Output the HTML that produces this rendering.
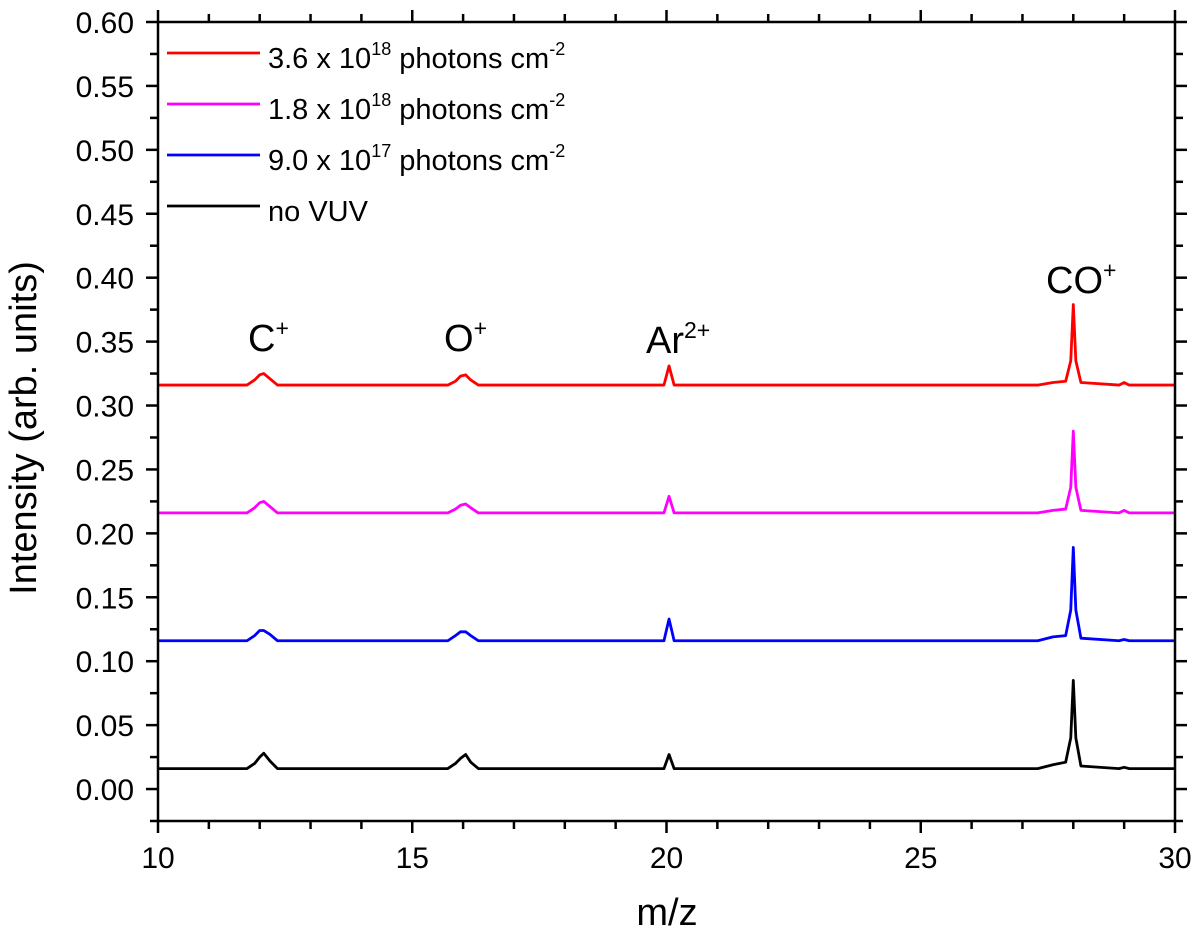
<!DOCTYPE html>
<html><head><meta charset="utf-8"><style>
html,body{margin:0;padding:0;background:#fff;}
svg{display:block;font-family:"Liberation Sans",Arial,sans-serif;}
</style></head><body>
<svg id="chart" width="1200" height="940" viewBox="0 0 1200 940">
<g id="series"></g>
<g id="axes"></g>
<text x="36" y="428" font-size="38" text-anchor="middle" transform="rotate(-90 36 428)">Intensity (arb. units)</text>
<text x="667" y="925" font-size="38" text-anchor="middle">m/z</text>
<text x="248" y="351" font-size="38">C<tspan font-size="23" dy="-15">+</tspan></text>
<text x="444" y="351" font-size="38">O<tspan font-size="23" dy="-15">+</tspan></text>
<text x="646" y="353" font-size="38">Ar<tspan font-size="23" dy="-15">2+</tspan></text>
<text x="1046" y="293" font-size="38">CO<tspan font-size="23" dy="-15">+</tspan></text>
<g id="legend"></g>
</svg>
<script>
const mz = [10,11.75,11.9,12.0,12.08,12.2,12.35,15.7,15.85,15.95,16.05,16.15,16.3,19.95,20.05,20.15,27.3,27.6,27.85,27.95,28.0,28.05,28.15,28.9,29.0,29.1,30];
const red = [0.316,0.316,0.320,0.324,0.325,0.321,0.316,0.316,0.319,0.323,0.324,0.320,0.316,0.316,0.331,0.316,0.316,0.318,0.319,0.335,0.379,0.335,0.318,0.316,0.318,0.316,0.316];
const magenta = [0.216,0.216,0.220,0.224,0.225,0.221,0.216,0.216,0.219,0.222,0.223,0.220,0.216,0.216,0.229,0.216,0.216,0.218,0.219,0.236,0.280,0.236,0.218,0.216,0.218,0.216,0.216];
const blue = [0.116,0.116,0.120,0.124,0.124,0.121,0.116,0.116,0.120,0.123,0.123,0.120,0.116,0.116,0.133,0.116,0.116,0.119,0.120,0.140,0.189,0.140,0.118,0.116,0.117,0.116,0.116];
const black = [0.016,0.016,0.020,0.025,0.028,0.022,0.016,0.016,0.020,0.024,0.027,0.021,0.016,0.016,0.027,0.016,0.016,0.019,0.021,0.040,0.085,0.040,0.018,0.016,0.017,0.016,0.016];
const seriesColors = ["#ff0000","#ff00ff","#0000ff","#000000"];
const seriesNames = ["series-3-6e18","series-1-8e18","series-9-0e17","series-no-vuv"];
const xTicks = [10,15,20,25,30];
const yTicks = [0.00,0.05,0.10,0.15,0.20,0.25,0.30,0.35,0.40,0.45,0.50,0.55,0.60];

const L=158,R=1175,T=22,B=821,xMin=10,xMax=30,yMin=-0.025,yMax=0.60;
const sx=v=>L+(v-xMin)/(xMax-xMin)*(R-L);
const sy=v=>B-(v-yMin)/(yMax-yMin)*(B-T);
const NS="http://www.w3.org/2000/svg";
function mk(tag,attrs,parent){const e=document.createElementNS(NS,tag);for(const k in attrs)e.setAttribute(k,attrs[k]);parent.appendChild(e);return e;}

const sg=document.getElementById('series');
[red,magenta,blue,black].forEach((arr,i)=>{
  const d=arr.map((v,j)=>(j?'L':'M')+sx(mz[j]).toFixed(2)+' '+sy(v).toFixed(2)).join(' ');
  const p=mk('path',{d:d,fill:'none',stroke:seriesColors[i],'stroke-width':2.8,'stroke-linejoin':'round'},sg);
  
  
});

const ag=document.getElementById('axes');
const frame=mk('rect',{x:L,y:T,width:R-L,height:B-T,fill:'none',stroke:'#000','stroke-width':2.5},ag);


for(let v=xMin;v<=xMax;v+=1){
  const x=sx(v),major=(v%5===0),len=major?12:8;
  mk('line',{x1:x,y1:B,x2:x,y2:B+len,stroke:'#000','stroke-width':2.5},ag);
  mk('line',{x1:x,y1:T,x2:x,y2:T-len,stroke:'#000','stroke-width':2.5},ag);
}
xTicks.forEach(v=>{
  const t=mk('text',{x:sx(v),y:B+47,'font-size':30,'text-anchor':'middle'},ag);
  t.textContent=String(v);
  
  
});
for(let k=-1;k<=24;k++){
  const v=k*0.025;if(v<yMin-1e-9)continue;
  const y=sy(v),major=(k%2===0),len=major?12:8;
  mk('line',{x1:L,y1:y,x2:L-len,y2:y,stroke:'#000','stroke-width':2.5},ag);
  mk('line',{x1:R,y1:y,x2:R+len,y2:y,stroke:'#000','stroke-width':2.5},ag);
}
yTicks.forEach(v=>{
  const t=mk('text',{x:L-24,y:sy(v)+11,'font-size':30,'text-anchor':'end'},ag);
  t.textContent=v.toFixed(2);
  
  
});

const lg=document.getElementById('legend');
const legendLabels=[["3.6 x 10","18"],["1.8 x 10","18"],["9.0 x 10","17"],["no VUV",null]];
legendLabels.forEach((lab,i)=>{
  const y=53+i*51;
  const g=mk('g',{},lg);
  
  
  mk('line',{x1:167,y1:y,x2:260,y2:y,stroke:seriesColors[i],'stroke-width':2.8},g);
  const t=mk('text',{x:268,y:y+15,'font-size':29},g);
  if(lab[1]){
    t.innerHTML=lab[0]+'<tspan font-size="18" dy="-13">'+lab[1]+'</tspan><tspan dy="13"> photons cm</tspan><tspan font-size="18" dy="-13">-2</tspan>';
  } else t.textContent=lab[0];
});
</script>
</body></html>
